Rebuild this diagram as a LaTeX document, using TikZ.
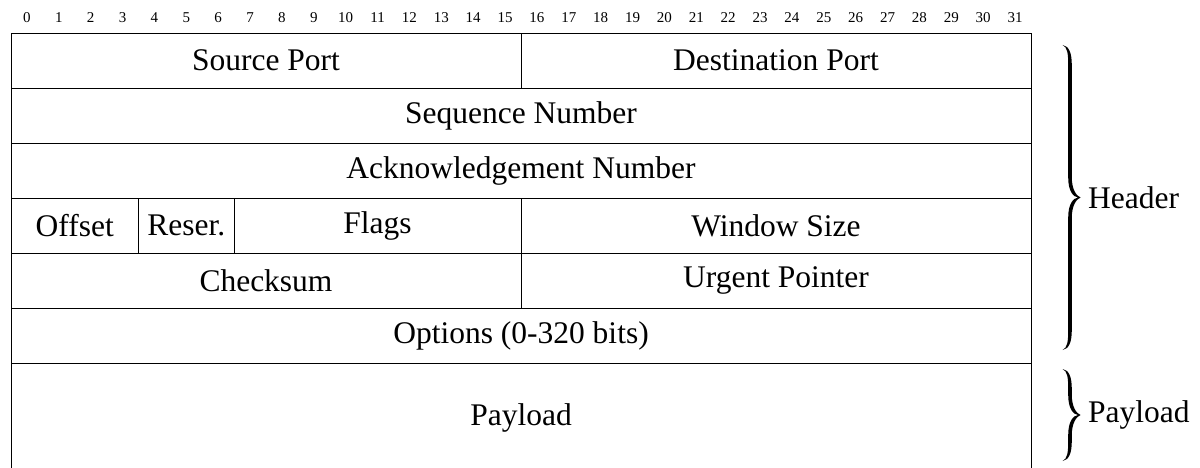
\documentclass[tikz,border=0pt]{standalone}
\usepackage{fontspec}
\setmainfont{Liberation Serif}
\begin{document}
\def\bw{31.875}% width of one bit
% horizontal positions of a right-facing brace: curled ends, stem, tip
\def\xl{1062.5}\def\xm{1070}\def\xt{1080.5}\def\hw{1.8}
% filled curly brace from top y #1 to bottom y #2
\newcommand\fatbrace[2]{%
  \pgfmathsetmacro\bt{#1}\pgfmathsetmacro\bb{#2}\pgfmathsetmacro\bm{(#1+#2)/2}%
  \fill[bracefill] (\xl,\bt)
    .. controls ({\xm-1},{\bt+1}) and ({\xm+\hw},{\bt+8}) .. ({\xm+\hw},{\bt+20})
    -- ({\xm+\hw},{\bm-20})
    .. controls ({\xm+\hw},{\bm-8}) and ({\xt-4},{\bm-1.5}) .. (\xt,\bm)
    .. controls ({\xt-4},{\bm+1.5}) and ({\xm+\hw},{\bm+8}) .. ({\xm+\hw},{\bm+20})
    -- ({\xm+\hw},{\bb-20})
    .. controls ({\xm+\hw},{\bb-8}) and ({\xm-1},{\bb-1}) .. (\xl,\bb)
    .. controls ({\xm-2.5},{\bb-2}) and ({\xm-\hw},{\bb-9}) .. ({\xm-\hw},{\bb-20})
    -- ({\xm-\hw},{\bm+20})
    .. controls ({\xm-\hw},{\bm+6}) and ({\xt-7},{\bm+0.5}) .. ({\xt-2.5},\bm)
    .. controls ({\xt-7},{\bm-0.5}) and ({\xm-\hw},{\bm-6}) .. ({\xm-\hw},{\bm-20})
    -- ({\xm-\hw},{\bt+20})
    .. controls ({\xm-\hw},{\bt+9}) and ({\xm-2.5},{\bt+2}) .. (\xl,\bt) -- cycle;
}
\tikzset{
  field/.style={draw, line width=0.9pt, inner sep=0pt, outer sep=0pt,
    font=\fontsize{31.5}{38}\selectfont, minimum height=55pt, anchor=north west},
  bitnum/.style={font=\fontsize{15}{18}\selectfont, inner sep=0pt},
  bracefill/.style={fill=black},
  bracelabel/.style={anchor=west, inner sep=0pt, font=\fontsize{31.5}{38}\selectfont},
}
\begin{tikzpicture}[x=1pt, y=-1pt]
\useasboundingbox (0,0) rectangle (1200,468);
\clip (0,0) rectangle (1200,468);
% bit numbers
\foreach \i in {0,...,31}
  \node[bitnum] (bit\i) at ({11+(\i+0.5)*\bw}, 18) {\i};
% header rows
\node[field, minimum width=16*\bw] (src) at (11,33) {Source Port};
\node[field, minimum width=16*\bw] (dst) at (521,33) {Destination Port};
\node[field, minimum width=32*\bw] (seq) at (11,88) {Sequence Number};
\node[field, minimum width=32*\bw] (ack) at (11,143) {Acknowledgement Number};
\node[field, minimum width=4*\bw] (off) at (11,198) {Offset};
\node[field, minimum width=3*\bw] (res) at ({11+4*\bw},198) {Reser.};
\node[field, minimum width=9*\bw] (flags) at ({11+7*\bw},198) {Flags};
\node[field, minimum width=16*\bw] (win) at (521,198) {Window Size};
\node[field, minimum width=16*\bw] (chk) at (11,253) {Checksum};
\node[field, minimum width=16*\bw] (urg) at (521,253) {Urgent Pointer};
\node[field, minimum width=32*\bw] (opt) at (11,308) {Options (0-320 bits)};
% payload
\node[field, minimum width=32*\bw, minimum height=110pt] (pay) at (11,363) {Payload};
% braces and their labels
\fatbrace{45}{350}
\node[bracelabel] (hlabel) at (1088,198) {Header};
\fatbrace{369}{461}
\node[bracelabel] (plabel) at (1088,415) {Payload};
\end{tikzpicture}
\end{document}
